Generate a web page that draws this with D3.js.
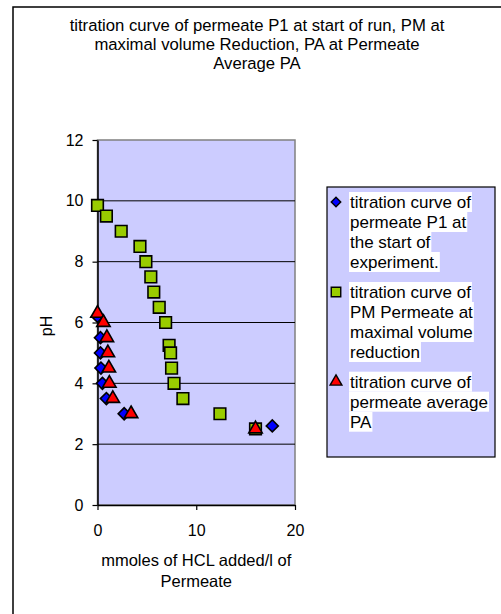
<!DOCTYPE html>
<html>
<head>
<meta charset="utf-8">
<script src="https://cdn.jsdelivr.net/npm/d3@7"></script>
<style>
  html, body { margin: 0; padding: 0; background: #fff; }
  svg { display: block; font-family: "Liberation Sans", Arial, sans-serif; }
</style>
</head>
<body>
<svg id="chart" width="501" height="614"></svg>
<script>
// Titration data: [mmoles HCl added per litre, pH]
const p1Start = [
  [0.0, 6.2], [0.3, 5.5], [0.3, 5.0], [0.35, 4.5], [0.5, 4.0],
  [0.9, 3.5], [2.7, 3.0], [17.7, 2.6]
];
const pmMaxReduction = [
  [0.0, 9.85], [0.9, 9.5], [2.4, 9.0], [4.3, 8.5], [4.9, 8.0],
  [5.4, 7.5], [5.7, 7.0], [6.25, 6.5], [6.9, 6.0], [7.25, 5.25],
  [7.4, 5.0], [7.5, 4.5], [7.75, 4.0], [8.65, 3.5], [12.4, 3.0],
  [16.0, 2.5]
];
const paAverage = [
  [0.0, 6.3], [0.6, 6.0], [0.95, 5.5], [1.05, 5.0], [1.15, 4.5],
  [1.2, 4.0], [1.55, 3.5], [3.4, 3.0], [16.0, 2.5]
];

const titleLines = [
  "titration curve of permeate P1 at start of run, PM at",
  "maximal volume Reduction, PA at Permeate",
  "Average PA"
];
const xTitleLines = ["mmoles of HCL added/l of", "Permeate"];
const yTitle = "pH";
const xTicks = [0, 10, 20];
const yTicks = [0, 2, 4, 6, 8, 10, 12];

const legendItems = [
  { shape: "diamond", fill: "#0000FF",
    lines: ["titration curve of", "permeate P1 at", "the start of", "experiment."] },
  { shape: "square", fill: "#99CC00",
    lines: ["titration curve of", "PM Permeate at", "maximal volume", "reduction"] },
  { shape: "triangle", fill: "#FF0000",
    lines: ["titration curve of", "permeate average", "PA"] }
];

const svg = d3.select("#chart");

// outer chart frame
svg.append("rect")
  .attr("x", 13).attr("y", 7)
  .attr("width", 520).attr("height", 640)
  .attr("fill", "#fff").attr("stroke", "#000").attr("stroke-width", 1.5);

// title
svg.append("g").selectAll("text").data(titleLines).join("text")
  .attr("x", 257).attr("y", (d, i) => 30.5 + i * 19)
  .attr("text-anchor", "middle")
  .attr("font-size", 16.7)
  .text(d => d);

const plot = { left: 97.5, right: 295, top: 140, bottom: 505 };
const x = d3.scaleLinear().domain([0, 20]).range([plot.left, plot.right]);
const y = d3.scaleLinear().domain([0, 12]).range([plot.bottom, plot.top]);

// plot area
svg.append("rect")
  .attr("x", plot.left).attr("y", plot.top)
  .attr("width", plot.right - plot.left).attr("height", plot.bottom - plot.top)
  .attr("fill", "#CCCCFF").attr("stroke", "#808080").attr("stroke-width", 1.5);

// horizontal gridlines
svg.append("g").selectAll("line").data(yTicks.filter(t => t > 0 && t < 12)).join("line")
  .attr("x1", plot.left).attr("x2", plot.right)
  .attr("y1", d => y(d)).attr("y2", d => y(d))
  .attr("stroke", "#000").attr("stroke-width", 1);

// axes
const yAxis = svg.append("g")
  .attr("transform", `translate(${plot.left},0)`)
  .call(d3.axisLeft(y).tickValues(yTicks).tickSize(5).tickPadding(9).tickSizeOuter(0));
const xAxis = svg.append("g")
  .attr("transform", `translate(0,${plot.bottom})`)
  .call(d3.axisBottom(x).tickValues(xTicks).tickSize(5).tickPadding(15).tickSizeOuter(0));
[yAxis, xAxis].forEach(a => {
  a.select(".domain").attr("stroke", "#000").attr("stroke-width", 1.5);
  a.selectAll(".tick line").attr("stroke", "#000").attr("stroke-width", 1.2);
  a.selectAll(".tick text").attr("font-size", 16).attr("fill", "#000")
    .attr("font-family", "Liberation Sans, Arial, sans-serif");
});

// axis titles
svg.append("text")
  .attr("transform", "translate(52,326) rotate(-90)")
  .attr("text-anchor", "middle").attr("font-size", 16)
  .text(yTitle);
svg.append("g").selectAll("text").data(xTitleLines).join("text")
  .attr("x", (plot.left + plot.right) / 2).attr("y", (d, i) => 566 + i * 21)
  .attr("text-anchor", "middle").attr("font-size", 16.5)
  .text(d => d);

// marker shapes
const symbolFor = {
  diamond: d3.symbol().type(d3.symbolSquare).size(72),
  square: d3.symbol().type(d3.symbolSquare).size(135),
  triangle: d3.symbol().type(d3.symbolTriangle).size(78)
};
function marker(sel, shape, fill) {
  sel.attr("d", symbolFor[shape]())
    .attr("fill", fill).attr("stroke", "#000").attr("stroke-width", 1.6)
    .attr("stroke-linejoin", "miter");
}
function rot(shape) { return shape === "diamond" ? " rotate(45)" : ""; }

const series = [
  { data: p1Start, shape: "diamond", fill: "#0000FF" },
  { data: pmMaxReduction, shape: "square", fill: "#99CC00" },
  { data: paAverage, shape: "triangle", fill: "#FF0000" }
];
series.forEach(s => {
  svg.append("g").selectAll("path").data(s.data).join("path")
    .call(marker, s.shape, s.fill)
    .attr("transform", d => `translate(${x(d[0])},${y(d[1])})` + rot(s.shape));
});

// legend
svg.append("rect")
  .attr("x", 327).attr("y", 187).attr("width", 168).attr("height", 270)
  .attr("fill", "#CCCCFF").attr("stroke", "#000").attr("stroke-width", 1.2);

const itemTops = [202, 292, 381.7];
const legendFont = 17;
legendItems.forEach((item, i) => {
  const g = svg.append("g");
  g.append("path")
    .call(marker, item.shape, item.fill)
    .attr("transform", `translate(336,${itemTops[i]})` + rot(item.shape))
    .attr("stroke-width", 1.4)
    .attr("d", d3.symbol().type(item.shape === "triangle" ? d3.symbolTriangle : d3.symbolSquare)
      .size(item.shape === "square" ? 90 : item.shape === "diamond" ? 45 : 60)());
  item.lines.forEach((line, j) => {
    const cy = itemTops[i] + j * 20;
    const bg = g.append("rect").attr("fill", "#fff");
    const t = g.append("text")
      .attr("x", 350).attr("y", cy + 6)
      .attr("font-size", legendFont)
      .text(line);
    const w = t.node().getComputedTextLength();
    bg.attr("x", 349).attr("y", cy - 10).attr("width", w + 2).attr("height", 20);
  });
});
</script>
</body>
</html>
